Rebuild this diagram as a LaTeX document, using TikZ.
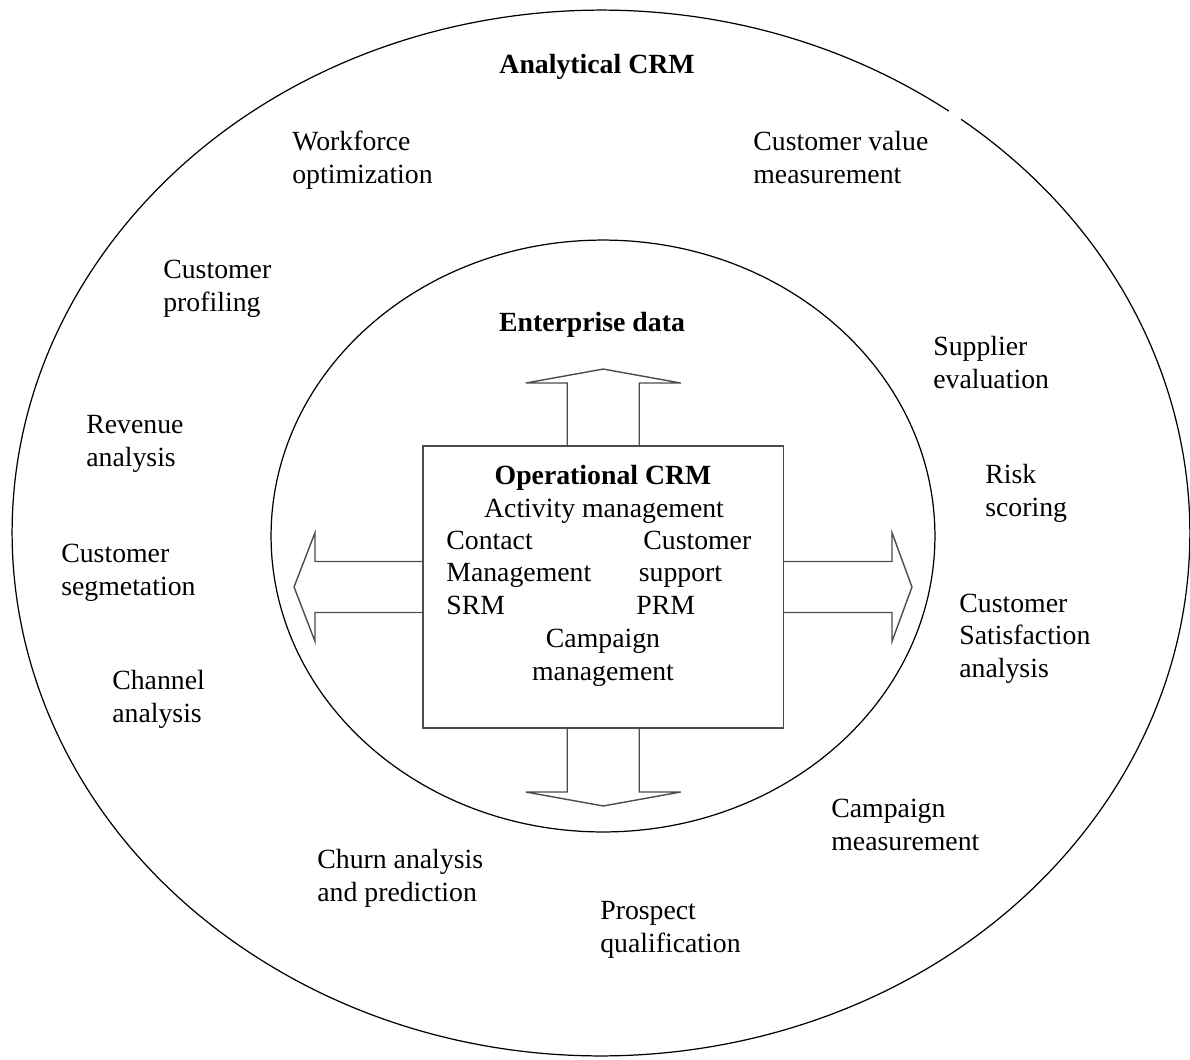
\documentclass[tikz,border=0pt]{standalone}
\usepackage{fontspec}
\setmainfont{Liberation Serif}
\usetikzlibrary{calc}
\begin{document}
\begin{tikzpicture}[x=0.02cm, y=-0.02cm,
  % multi-line labels sit on the baseline of their last line
  lbl/.style={anchor=base west, inner sep=0pt, align=left,
              font=\fontsize{15.8}{18.6}\selectfont},
  ctr/.style={anchor=base, inner sep=0pt, align=center,
              font=\fontsize{15.8}{18.6}\selectfont},
  ttl/.style={ctr, font=\fontsize{15.8}{18.6}\selectfont\bfseries},
  ring/.style={draw=black, line width=0.7pt},
  blockarrow/.style={draw=black!70, line width=0.8pt, line join=miter},
]
\useasboundingbox (0,0) rectangle (1190,1059);

% outer ring: analytical CRM (small break near the upper right)
\coordinate (outer) at (601,533);
\draw[ring] (outer) ++(53.8:11.78cm and 10.46cm)
  arc[start angle=53.8, end angle=412.3, x radius=11.78cm, y radius=10.46cm];

% inner ring: enterprise data
\coordinate (inner) at (603,536);
\draw[ring] (inner) ellipse [x radius=6.64cm, y radius=5.92cm];

% operational CRM box
\node[draw=black!70, line width=0.8pt, inner sep=0pt, outer sep=0pt,
      minimum width=7.21cm, minimum height=5.64cm] (ops) at (603.25,587) {};

% block arrows leaving the box
\draw[blockarrow, shift={(ops.north)}]
  (-36,0) -- (-36,-63) -- (-77.5,-63) -- (0,-77) -- (77.5,-63) -- (36,-63) -- (36,0);
\draw[blockarrow, shift={(ops.south)}]
  (-36,0) -- (-36,64) -- (-77.5,64) -- (0,78) -- (77.5,64) -- (36,64) -- (36,0);
\draw[blockarrow, shift={(ops.west)}]
  (0,-25.5) -- (-108,-25.5) -- (-108,-54.5) -- (-129,0) -- (-108,54.5) -- (-108,25.5) -- (0,25.5);
\draw[blockarrow, shift={(ops.east)}]
  (0,-25.5) -- (108.5,-25.5) -- (108.5,-54.5) -- (128.5,0) -- (108.5,54.5) -- (108.5,25.5) -- (0,25.5);

% titles
\node[ttl] (acrm) at (597,73) {Analytical CRM};
\node[ttl] (entdata) at (592,331) {Enterprise data};
\node[ttl] (opcrm) at (603,484) {Operational CRM};

% box contents
\node[ctr] (activity) at (604,517) {Activity management};
\node[lbl] (contact) at (446,614.6) {Contact\\Management\\SRM};
\node[lbl] (custsup) at (643,549) {Customer};
\node[lbl] (support) at (638.5,581) {support};
\node[lbl] (prm) at (636,614) {PRM};
\node[ctr] (campmgmt) at (603,680) {Campaign\\management};

% analytical functions around the ring
\node[lbl] (workforce) at (292,183) {Workforce\\optimization};
\node[lbl] (custvalue) at (753,183) {Customer value\\measurement};
\node[lbl] (profiling) at (163,311) {Customer\\profiling};
\node[lbl] (revenue) at (86,466) {Revenue\\analysis};
\node[lbl] (segment) at (61,595) {Customer\\segmetation};
\node[lbl] (channel) at (112,722) {Channel\\analysis};
\node[lbl] (supplier) at (933,388) {Supplier\\evaluation};
\node[lbl] (risk) at (985,516) {Risk\\scoring};
\node[lbl] (satisf) at (959,677.6) {Customer\\Satisfaction\\analysis};
\node[lbl] (campmeas) at (831,850) {Campaign\\measurement};
\node[lbl] (churn) at (317,901) {Churn analysis\\and prediction};
\node[lbl] (prospect) at (600,952) {Prospect\\qualification};
\end{tikzpicture}
\end{document}
